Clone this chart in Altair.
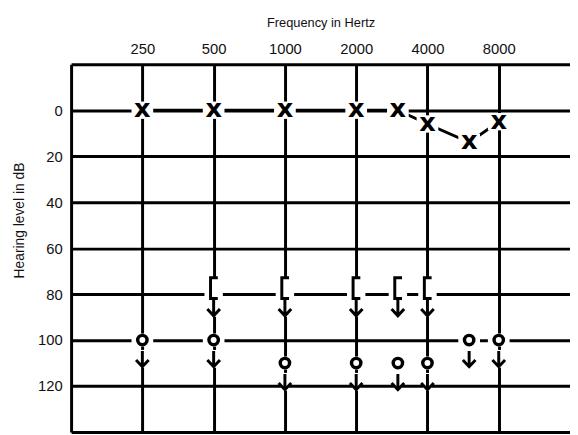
import altair as alt
import pandas as pd

# ---- data ----
freqs_x = [250, 500, 1000, 2000, 3000, 4000, 6000, 8000]
db_x = [0, 0, 0, 0, 0, 6, 14, 5]

freqs_o = [250, 500, 1000, 2000, 3000, 4000, 6000, 8000]
db_o = [100, 100, 110, 110, 110, 110, 100, 100]

freqs_b = [500, 1000, 2000, 3000, 4000]
db_b = [80, 80, 80, 80, 80]

freq_ticks = [125, 250, 500, 1000, 2000, 4000, 8000]
db_ticks = [-20, 0, 20, 40, 60, 80, 100, 120, 140]

df_x = pd.DataFrame({"freq": freqs_x, "db": db_x})
df_o = pd.DataFrame({"freq": freqs_o, "db": db_o})
df_b = pd.DataFrame({"freq": freqs_b, "db": db_b})

FONT = "Liberation Sans"

x_enc = alt.X(
    "freq:Q",
    scale=alt.Scale(type="log", base=2, domain=[125, 16000], nice=False),
    axis=alt.Axis(
        orient="top", values=freq_ticks, format="d",
        labelExpr="datum.value < 200 ? '' : datum.label",
        title="Frequency in Hertz", grid=True, gridColor="black", gridWidth=3,
        gridOpacity=1, ticks=False, domain=False, labelFontSize=15,
        labelFont=FONT, labelColor="#111", labelPadding=8, labelFlush=False,
        labelOverlap=False, titleFontSize=13, titleFontWeight="normal",
        titleFont=FONT, titleColor="#111", titlePadding=12,
    ),
)
y_enc = alt.Y(
    "db:Q",
    scale=alt.Scale(domain=[-20, 140], reverse=True, nice=False, zero=False),
    axis=alt.Axis(
        values=db_ticks, format="d",
        labelExpr="(datum.value < 0 || datum.value > 130) ? '' : datum.label",
        title="Hearing level in dB", grid=True, gridColor="black", gridWidth=3,
        gridOpacity=1, ticks=False, domain=False, labelFontSize=15,
        labelFont=FONT, labelColor="#111", labelPadding=9,
        titleFontSize=14, titleFontWeight="normal", titleFont=FONT,
        titleColor="#111", titleX=-52, titleY=158, titleBaseline="middle",
        titleAlign="center",
    ),
)

ARROW = "M0,-1L0,1M-0.8,0.15L0,1L0.8,0.15"
BRACKET = "M0.4,-1L-0.3,-1L-0.3,1L0.4,1"
BOX_X = "M-1,-0.8H1V0.8H-1Z"
BOX_O = "M-1,-0.6H1V0.6H-1Z"
BOX_B = "M-0.85,-1H0.85V1H-0.85Z"
BOX_A = "M-0.45,-1H0.45V1H-0.45Z"

line_x = alt.Chart(df_x).mark_line(color="black", strokeWidth=3).encode(x=x_enc, y=y_enc)

def white(df, shape, size, yoff=0):
    return alt.Chart(df).mark_point(
        shape=shape, size=size, filled=True, fill="white", opacity=1,
        strokeWidth=0, yOffset=yoff,
    ).encode(x=x_enc, y=y_enc)

bg = [
    white(df_x, BOX_X, 484),
    white(df_o, BOX_O, 484),
    white(df_b, BOX_B, 484, -6),
    white(df_o, BOX_A, 324, 19),
    white(df_b, BOX_A, 324, 14),
]

text_x = alt.Chart(df_x).mark_text(
    text="x", font="DejaVu Sans", fontWeight="bold", fontSize=26,
    align="center", baseline="alphabetic", dy=7, color="black",
).encode(x=x_enc, y=y_enc)

circ = alt.Chart(df_o).mark_point(
    shape="circle", size=90, strokeWidth=3.5, filled=False, color="black", opacity=1,
).encode(x=x_enc, y=y_enc)

brk = alt.Chart(df_b).mark_point(
    shape=BRACKET, size=441, strokeWidth=3, filled=False, color="black", opacity=1,
    yOffset=-6,
).encode(x=x_enc, y=y_enc)

arr_o = alt.Chart(df_o).mark_point(
    shape=ARROW, size=256, strokeWidth=3, filled=False, color="black", opacity=1,
    yOffset=19,
).encode(x=x_enc, y=y_enc)

arr_b = alt.Chart(df_b).mark_point(
    shape=ARROW, size=256, strokeWidth=3, filled=False, color="black", opacity=1,
    yOffset=14,
).encode(x=x_enc, y=y_enc)

chart = alt.layer(line_x, *bg, text_x, circ, brk, arr_o, arr_b).properties(
    width=506, height=373,
    autosize=alt.AutoSizeParams(type="none"),
    padding={"left": 64, "top": 54, "right": 0, "bottom": 0},
    background="white",
).configure_view(stroke=None)

chart.save("out.html", embed_options={"renderer": "svg", "actions": False})
